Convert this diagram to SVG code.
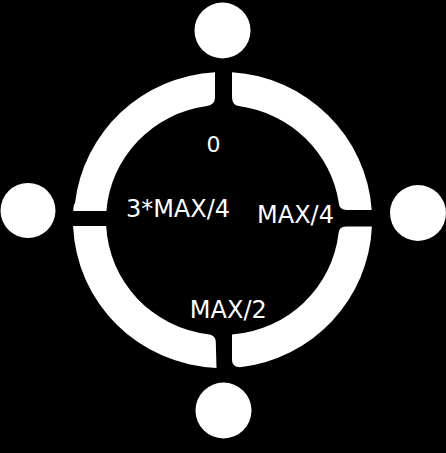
<svg xmlns="http://www.w3.org/2000/svg" width="446" height="453" viewBox="0 0 446 453">
  <style>
    .seg { fill: #ffffff; }
    .node { fill: #ffffff; }
    .lbl { fill: #ffffff; font-family: "DejaVu Sans", "Liberation Sans", sans-serif; font-size: 24px; text-anchor: middle; }
  </style>
  <rect x="0" y="0" width="446" height="453" fill="#000000"/>
  <g id="ring">
    <path id="seg-top-left" class="seg" d="M73.3,211 Q73.3,205 75,203 A149.5,148 0 0 1 215,72.2 L215,97 Q215,105 207,106 A116.5,115 0 0 0 106.4,211 Z"/>
    <path id="seg-top-right" class="seg" d="M232,72.3 A149.5,148 0 0 1 371.7,210 L346,210 Q339,209 338.8,203 A116.5,115 0 0 0 240,106.3 Q232,105.5 232,97 Z"/>
    <path id="seg-bottom-right" class="seg" d="M371.9,226.5 A149.5,148 0 0 1 240,367.3 Q232,367 232,360 L232,334.6 A116.5,115 0 0 0 338.6,233 Q339,226.5 346,226.5 Z"/>
    <path id="seg-bottom-left" class="seg" d="M216.5,367.9 A149.5,148 0 0 1 73.1,226 L106.2,226 A116.5,115 0 0 0 208,334.3 Q215.5,334.8 215.8,342 Z"/>
  </g>
  <g id="node-top"><circle class="node" cx="222.5" cy="30.5" r="28"/></g>
  <g id="node-left"><circle class="node" cx="28" cy="210.5" r="27.5"/></g>
  <g id="node-right"><circle class="node" cx="418" cy="213" r="28"/></g>
  <g id="node-bottom"><circle class="node" cx="223.5" cy="410.5" r="28"/></g>
  <g id="labels">
    <text class="lbl" x="213.5" y="152" style="font-size:22px">0</text>
    <text class="lbl" x="178" y="217">3*MAX/4</text>
    <text class="lbl" x="295.5" y="223.3">MAX/4</text>
    <text class="lbl" x="228.3" y="318.3">MAX/2</text>
  </g>
</svg>
